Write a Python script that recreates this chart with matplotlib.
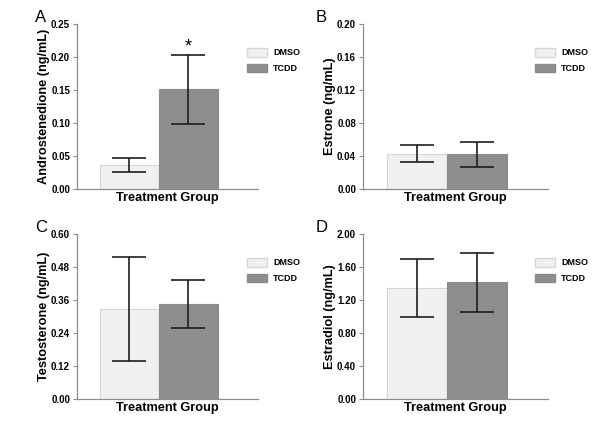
import matplotlib
matplotlib.use("Agg")
import matplotlib.pyplot as plt
from matplotlib.patches import Patch

plt.rcParams["font.family"] = ["Liberation Sans", "DejaVu Sans"]

groups = ["DMSO", "TCDD"]

andro_mean = [0.036, 0.151]
andro_err = [0.0105, 0.052]

estrone_mean = [0.043, 0.042]
estrone_err = [0.0098, 0.0148]

testo_mean = [0.327, 0.345]
testo_err = [0.19, 0.086]

estradiol_mean = [1.345, 1.415]
estradiol_err = [0.35, 0.356]

panels = [
    ("A", "Androstenedione (ng/mL)", andro_mean, andro_err, 0.25, [0, 0.05, 0.10, 0.15, 0.20, 0.25]),
    ("B", "Estrone (ng/mL)", estrone_mean, estrone_err, 0.20, [0, 0.04, 0.08, 0.12, 0.16, 0.20]),
    ("C", "Testosterone (ng/mL)", testo_mean, testo_err, 0.60, [0, 0.12, 0.24, 0.36, 0.48, 0.60]),
    ("D", "Estradiol (ng/mL)", estradiol_mean, estradiol_err, 2.00, [0, 0.40, 0.80, 1.20, 1.60, 2.00]),
]
significant = {"A": [False, True]}

colors = ["#f0f0f0", "#8e8e8e"]
edges = ["#d6d6d6", "#8a8a8a"]
spine_col = "#8c8c8c"

W, H = 600, 421
fig = plt.figure(figsize=(W / 100, H / 100), dpi=100)

# pixel boxes of each axes: left, top, right, bottom
boxes = [(77, 24, 258, 189), (363, 24, 548, 189), (77, 234, 258, 399), (363, 234, 548, 399)]
letter_pos = [(35, 22), (316, 22), (35, 232), (316, 232)]

xpos = [0.29, 0.615]
width = 0.325

for (letter, ylabel, mean, err, ymax, ticks), (l, t, r, b), (lx, ly) in zip(panels, boxes, letter_pos):
    ax = fig.add_axes([l / W, 1 - b / H, (r - l) / W, (b - t) / H])
    ax.bar(xpos, mean, width=width, color=colors, edgecolor=edges, linewidth=0.8)
    ax.errorbar(xpos, mean, yerr=err, fmt="none", ecolor="#1e1e1e",
                elinewidth=1.2, capsize=12, capthick=1.2)
    for i, s in enumerate(significant.get(letter, [False, False])):
        if s:
            ax.annotate("*", (xpos[i], mean[i] + err[i]), xytext=(0, 0),
                        textcoords="offset points", ha="center", va="bottom",
                        fontsize=13)
    ax.set_xlim(0, 1)
    ax.set_ylim(0, ymax)
    ax.set_yticks(ticks)
    ax.set_yticklabels(["%.2f" % v for v in ticks], fontsize=7, fontweight="bold")
    ax.set_xticks([])
    for side in ["top", "right"]:
        ax.spines[side].set_visible(False)
    for side in ["left", "bottom"]:
        ax.spines[side].set_color(spine_col)
        ax.spines[side].set_linewidth(0.9)
    ax.tick_params(axis="y", direction="out", length=3, width=0.8, color=spine_col, pad=2)
    ax.set_ylabel(ylabel, fontsize=9.2, fontweight="bold", labelpad=1)
    ax.set_xlabel("Treatment Group", fontsize=9.2, fontweight="bold", labelpad=2)

    handles = [Patch(facecolor=colors[i], edgecolor=edges[i], label=groups[i]) for i in range(2)]
    ax.legend(handles=handles, loc="upper left",
              bbox_to_anchor=((170 if letter in "AC" else 172) / (r - l), (b - t - 24) / (b - t)),
              frameon=False, prop={"weight": "bold", "size": 6.5},
              handlelength=2.2, handleheight=1.1, labelspacing=0.7,
              handletextpad=0.7, borderpad=0, borderaxespad=0)

    fig.text(lx / W, 1 - ly / H, letter, fontsize=12, ha="left", va="baseline")

fig.savefig("out.png", dpi=100)
